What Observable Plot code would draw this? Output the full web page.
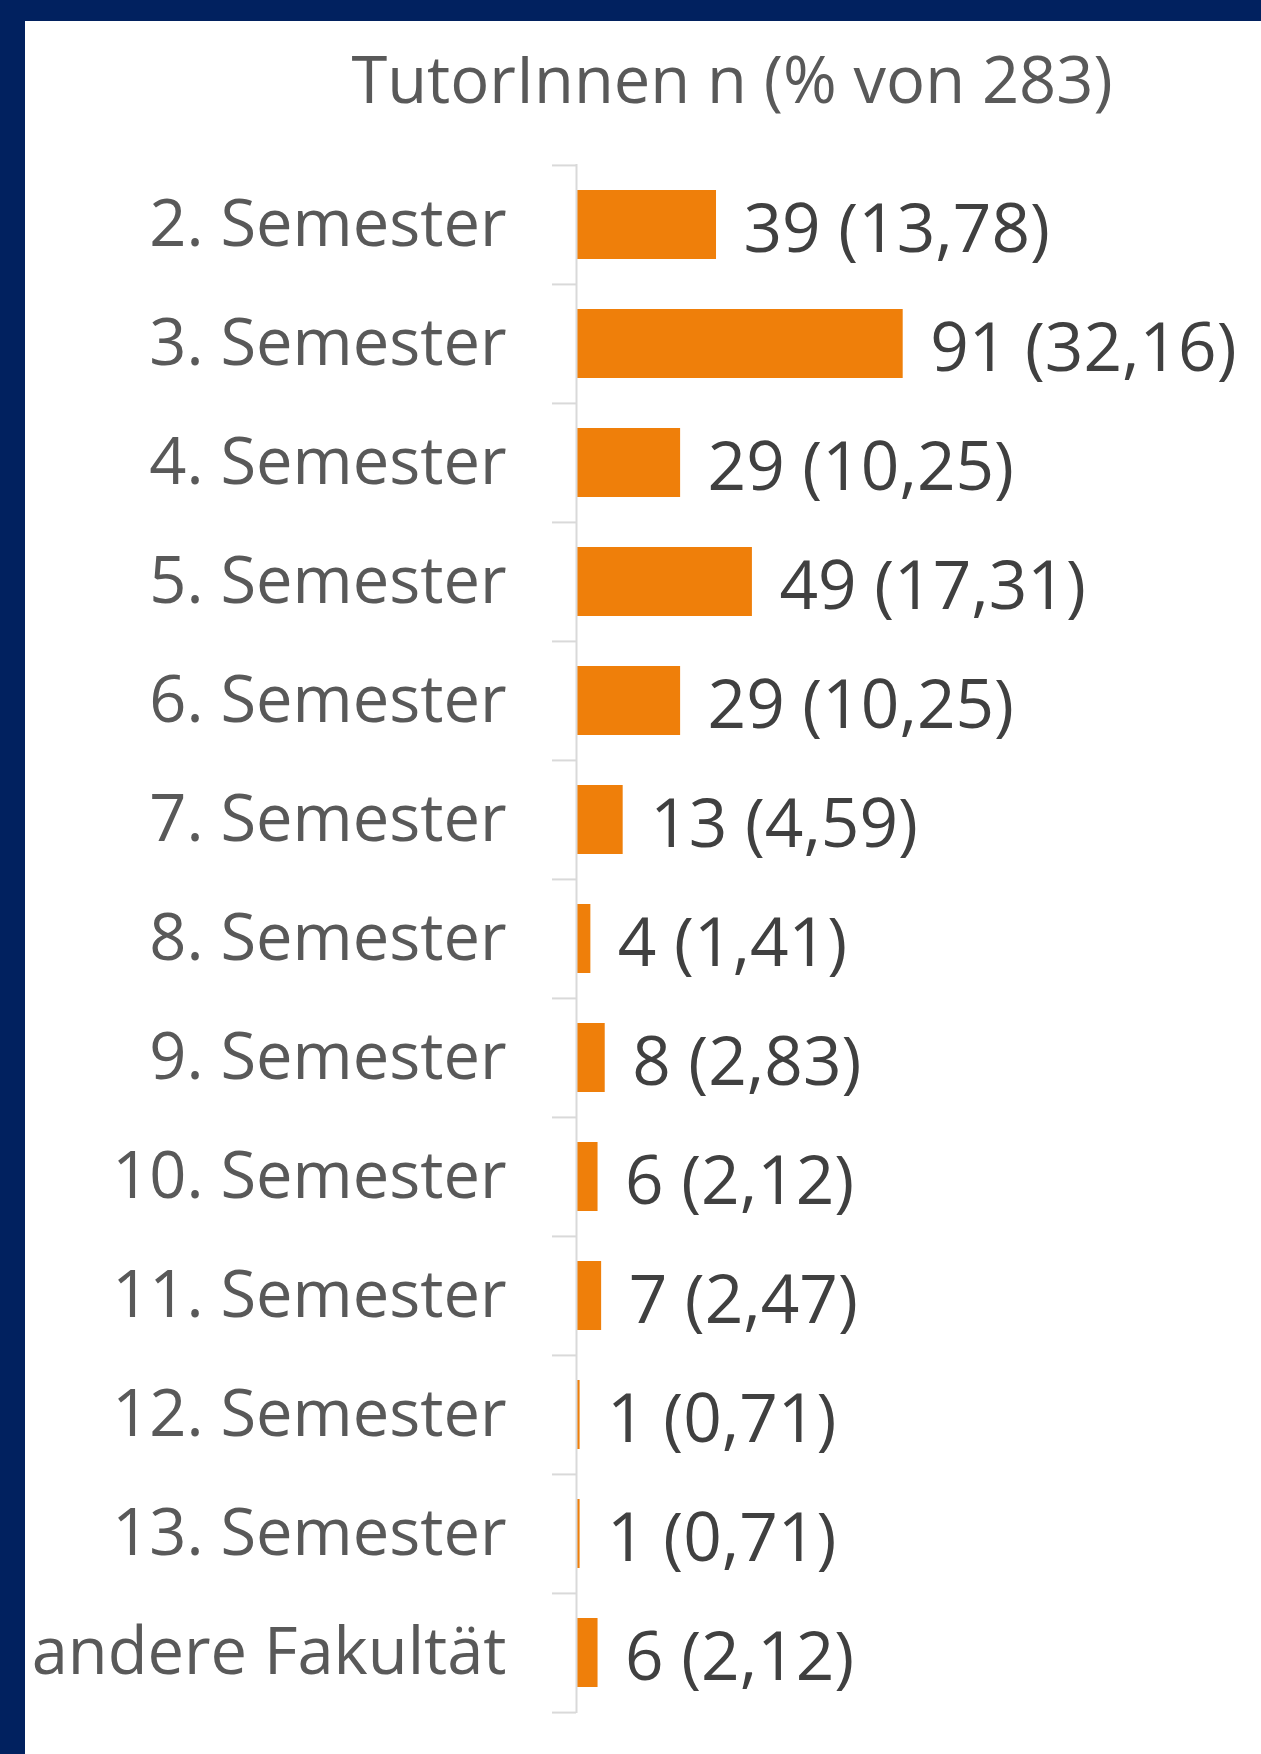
<!DOCTYPE html>
<html>
<head>
<meta charset="utf-8">
<script src="https://cdn.jsdelivr.net/npm/d3@7"></script>
<script src="https://cdn.jsdelivr.net/npm/@observablehq/plot@0.6"></script>
<style>
  html, body { margin: 0; padding: 0; background: #fff; }
  #page {
    position: relative;
    width: 1261px; height: 1754px;
    box-sizing: border-box;
    border-top: 21px solid #01215F;
    border-left: 25px solid #01215F;
    background: #fff;
    overflow: hidden;
  }
  #title {
    position: relative;
    height: 102px;
    box-sizing: border-box;
    padding-top: 12px;
    line-height: 90px;
    font-family: "Open Sans", sans-serif;
    font-size: 65px;
    color: #595959;
    white-space: nowrap;
  }
  #title span {
    position: absolute;
    left: 707px;
    transform: translateX(-50%);
  }
  #chart svg { display: block; }
</style>
</head>
<body>
<div id="page">
  <div id="title"><span>TutorInnen n (% von 283)</span></div>
  <div id="chart"></div>
</div>
<script>
const categories = ["2. Semester", "3. Semester", "4. Semester", "5. Semester", "6. Semester",
  "7. Semester", "8. Semester", "9. Semester", "10. Semester", "11. Semester",
  "12. Semester", "13. Semester", "andere Fakultät"];
const counts = [39, 91, 29, 49, 29, 13, 4, 8, 6, 7, 1, 1, 6];
const percents = [13.78, 32.16, 10.25, 17.31, 10.25, 4.59, 1.41, 2.83, 2.12, 2.47, 0.71, 0.71, 2.12];

const data = categories.map((c, i) => ({
  category: c,
  n: counts[i],
  label: `${counts[i]} (${percents[i].toFixed(2).replace(".", ",")})`
}));

const W = 1236, H = 1631, mt = 41, mb = 41, ml = 551, mr = 326;
const step = (H - mt - mb) / categories.length;
const grid = "#d9d9d9";

const chart = Plot.plot({
  width: W, height: H,
  marginTop: mt, marginBottom: mb, marginLeft: ml, marginRight: mr,
  x: {domain: [0, 100], axis: null},
  y: {domain: categories, paddingInner: 0.42, paddingOuter: 0.21, label: null},
  style: {fontFamily: "'Open Sans', sans-serif", fontSize: "65px", background: "white"},
  marks: [
    Plot.barX(data, {x: "n", y: "category", fill: "#EF7F0A"}),
    Plot.ruleX([0], {stroke: grid, strokeWidth: 2}),
    Plot.axisY({tickSize: 24, tickFormat: () => "", stroke: grid, strokeWidth: 2, dy: -step / 2, label: null}),
    Plot.axisY({ticks: [categories[categories.length - 1]], tickSize: 24, tickFormat: () => "", stroke: grid, strokeWidth: 2, dy: step / 2, label: null}),
    Plot.axisY({tickSize: 0, tickPadding: 70, fill: "#595959", fontSize: 65, label: null}),
    Plot.text(data, {x: "n", y: "category", text: "label", textAnchor: "start", dx: 27, dy: 5, fill: "#404040", fontSize: 67.5})
  ]
});
document.getElementById("chart").appendChild(chart);
</script>
</body>
</html>
